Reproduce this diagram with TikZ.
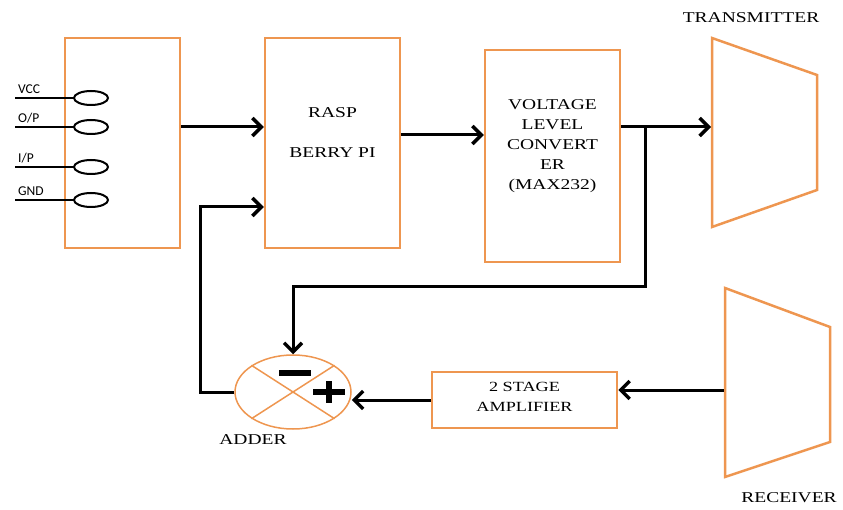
\documentclass[tikz,border=0pt]{standalone}
\usepackage{fontspec}
\setmainfont{Liberation Serif}[FakeStretch=1.3]
\newfontfamily\pinfont{Carlito}
\usetikzlibrary{shapes.geometric,arrows.meta}
\definecolor{boxorange}{RGB}{238,150,80}

\begin{document}
\begin{tikzpicture}[x=1pt,y=-1pt,
  blk/.style={draw=boxorange,line width=2.5pt,inner sep=0pt},
  arr/.style={line width=3pt,-{Straight Barb[length=9pt,width=18pt,line width=3.5pt]}},
  txt/.style={font=\fontsize{15}{20}\selectfont,align=center,inner sep=0pt},
  pin/.style={font=\pinfont\fontsize{13.5}{14}\selectfont,inner sep=0pt}]
\useasboundingbox (0,0) rectangle (843,510);
\node[blk,minimum width=115pt,minimum height=210pt] (sensor) at (122.5,143) {};
\node[blk,minimum width=135pt,minimum height=210pt] (rpi) at (332.5,143) {};
\node[blk,minimum width=135pt,minimum height=212pt] (max) at (552.5,156) {};
\node[blk,minimum width=185pt,minimum height=56pt] (amp) at (524.5,400) {};
\node[draw=boxorange,line width=1.5pt,ellipse,minimum width=116pt,minimum height=74pt,inner sep=0pt] (adder) at (293,392) {};
\draw[boxorange,line width=1.5pt] (adder.north west) -- (adder.south east) (adder.north east) -- (adder.south west);
\fill ([shift={(-14,-22)}]adder.center) rectangle ([shift={(18,-16)}]adder.center);
\fill ([shift={(20,-3)}]adder.center) rectangle ([shift={(52,3)}]adder.center);
\fill ([shift={(33,-11)}]adder.center) rectangle ([shift={(39,11)}]adder.center);
\node[txt] (rpitext) at ([yshift=10pt]rpi.center) {RASP\\[20pt]BERRY PI};
\node[txt] (maxtext) at ([yshift=10pt]max.center) {VOLTAGE\\LEVEL\\CONVERT\\ER\\(MAX232)};
\node[txt,font=\fontsize{14}{20}\selectfont] (amptext) at ([yshift=3pt]amp.center) {2 STAGE\\AMPLIFIER};
\node[txt] (addertext) at (253,440) {ADDER};
\draw[blk] (712,38) -- (817,75) -- (817,190) -- (712,227) -- cycle;
\draw[blk] (725,288) -- (830,327) -- (830,442) -- (725,477) -- cycle;
\node[txt] (txtext) at (751,18) {TRANSMITTER};
\node[txt] (rxtext) at (789,498) {RECEIVER};
\coordinate (tx) at (711,127);
\coordinate (rx) at (724,390);
\coordinate (branch) at (645,127);
\coordinate (fb) at (645,287);
\coordinate (fb2) at (200,207);
\foreach \y/\lab in {98/{VCC},127/{O/P},167/{I/P},200/{GND}} {
  \draw[line width=2pt] (15,\y) -- (74,\y);
  \draw[line width=2pt] (91,\y) ellipse (17 and 7);
  \node[pin,anchor=base west] (pin\y) at (18,\y-4) {\lab};
}
\draw[arr] ([yshift=16pt]sensor.east) -- ([yshift=16pt]sensor.east -| rpi.west);
\draw[arr] ([yshift=8pt]rpi.east) -- ([yshift=8pt]rpi.east -| max.west);
\draw[arr] (max.east |- tx) -- (tx);
\draw[arr] (branch) -- (fb) -| (adder.north);
\draw[arr] (rx) -- (rx -| amp.east);
\draw[arr] (amp.west) -- (amp.west -| adder.east);
\draw[arr] (adder.west) -| (fb2) -- (fb2 -| rpi.west);
\end{tikzpicture}
\end{document}
